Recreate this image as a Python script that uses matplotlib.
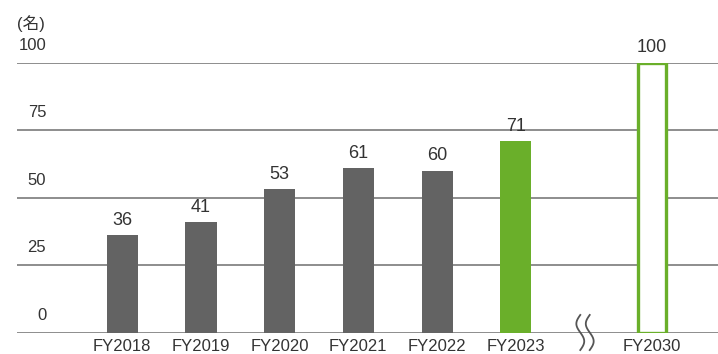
import numpy as np
import matplotlib
matplotlib.use("Agg")
import matplotlib.pyplot as plt

plt.rcParams['font.family'] = ['Liberation Sans', 'Noto Sans CJK JP', 'DejaVu Sans']

# Data
years = ["FY2018", "FY2019", "FY2020", "FY2021", "FY2022", "FY2023", "FY2030"]
values = [36, 41, 53, 61, 60, 71, 100]
kinds = ["actual", "actual", "actual", "actual", "actual", "current", "target"]
y_ticks = [0, 25, 50, 75, 100]
unit_label = "(名)"

# Layout: slot positions (gap before the target year)
positions = [0, 1, 2, 3, 4, 5, 6.73]
break_pos = 5.88

GREY = "#636363"
GREEN = "#6aaf2a"
TEXT = "#333333"
GRID = "#6f6f6f"

W, H = 718, 354
fig = plt.figure(figsize=(W / 100, H / 100), dpi=100)
ax_left, ax_right = 17 / W, 1.0
ax_bottom, ax_top = (H - 332.5) / H, (H - 62.5) / H
ax = fig.add_axes([ax_left, ax_bottom, ax_right - ax_left, ax_top - ax_bottom])

ax.set_xlim(-1.338, 7.57)
ax.set_ylim(0, 100)

# Horizontal grid lines
for t in y_ticks:
    ax.axhline(t, color=GRID, lw=1.1, zorder=1)
    ax.annotate(str(t), xy=(0, t), xycoords=("axes fraction", "data"),
                xytext=(21, 7), textcoords="offset points",
                ha="right", va="bottom", fontsize=12, color=TEXT,
                annotation_clip=False)

bw = 0.395
for x, v, k in zip(positions, values, kinds):
    if k == "target":
        ax.bar(x, v, width=bw - 0.03, facecolor="white", edgecolor=GREEN,
               lw=2.4, zorder=3)
    else:
        ax.bar(x, v, width=bw, color=GREEN if k == "current" else GREY,
               zorder=3)
    ax.annotate(str(v), xy=(x, v), xytext=(0, 4.5), textcoords="offset points",
                ha="center", va="bottom", fontsize=13, color=TEXT,
                annotation_clip=False)

ax.set_xticks(positions)
ax.set_xticklabels(years, fontsize=12, color=TEXT)
ax.tick_params(axis="x", length=0, pad=5)
ax.set_yticks([])
for s in ax.spines.values():
    s.set_visible(False)

# Axis break marks on the baseline
t = np.linspace(0, 1, 60)
yy = 6.5 - 13 * t
for dx in (-0.06, 0.06):
    xx = break_pos + dx - 0.05 * np.sin(2 * np.pi * t)
    ax.plot(xx, yy, color="#555555", lw=1.3, zorder=4, clip_on=False)

fig.text(17 / W, 1 - 24 / H, unit_label, ha="left", va="center",
         fontsize=12, color=TEXT)

fig.savefig("out.png", dpi=100)
